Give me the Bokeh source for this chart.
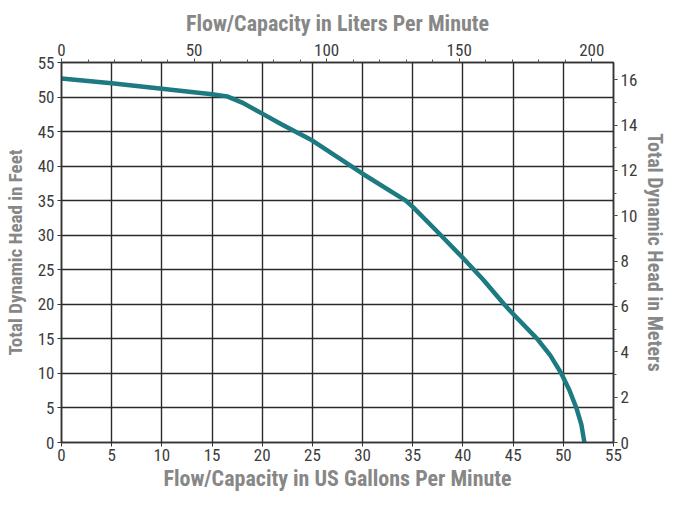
from bokeh.plotting import figure
from bokeh.models import Range1d, LinearAxis, SingleIntervalTicker
from bokeh.embed import file_html
from bokeh.resources import INLINE

# Data
gallons = [0, 5, 10, 15, 16.5, 18, 20, 22, 25, 30, 34.3, 35, 37.8, 40, 42, 44.1, 45, 47.4, 48.7, 49.8, 50.6, 51.3, 51.8, 52.1]
feet = [52.7, 52.0, 51.2, 50.4, 50.1, 49.2, 47.6, 46.0, 43.7, 38.9, 35.0, 34.1, 30.0, 26.7, 23.6, 20.0, 18.6, 15.0, 12.6, 10.0, 7.6, 5.0, 2.6, 0.0]

GAL_TO_L = 3.78541
FT_TO_M = 0.3048
x_max = 55
y_max = 55

FONT = "Roboto Condensed"
LABEL_COLOR = "#878787"
TICK_COLOR = "#3c3c3c"
LINE_COLOR = "#1c7a80"

p = figure(output_backend="svg", toolbar_location=None,
           x_range=Range1d(0, x_max), y_range=Range1d(0, y_max),
           frame_width=552, frame_height=380,
           min_border_left=55, min_border_right=50, min_border_top=62, min_border_bottom=54)
p.extra_x_ranges = {"lpm": Range1d(0, x_max * GAL_TO_L)}
p.extra_y_ranges = {"m": Range1d(0, y_max * FT_TO_M)}

p.line(gallons, feet, line_color=LINE_COLOR, line_width=4.5, line_cap="round", line_join="round")

def style(ax, label, size):
    ax.axis_label = label
    ax.axis_label_text_font = FONT
    ax.axis_label_text_font_style = "bold"
    ax.axis_label_text_font_size = size
    ax.axis_label_text_color = LABEL_COLOR
    ax.major_label_text_font = FONT
    ax.major_label_text_font_size = "17px"
    ax.major_label_text_color = TICK_COLOR
    ax.axis_line_color = "#333333"
    ax.axis_line_width = 1.5
    ax.major_tick_line_color = "#333333"
    ax.minor_tick_line_color = "#555555"
    ax.major_tick_in = 0
    ax.major_tick_out = 4
    ax.minor_tick_in = 0
    ax.minor_tick_out = 3

xb = p.xaxis[0]
xb.ticker = SingleIntervalTicker(interval=5, num_minor_ticks=0)
style(xb, "Flow/Capacity in US Gallons Per Minute", "22px")
xb.axis_label_standoff = 2
xb.major_label_standoff = 2

yl = p.yaxis[0]
yl.ticker = SingleIntervalTicker(interval=5, num_minor_ticks=0)
style(yl, "Total Dynamic Head in Feet", "19px")
yl.axis_label_standoff = 8
yl.major_label_standoff = 3

xt = LinearAxis(x_range_name="lpm", ticker=SingleIntervalTicker(interval=50, num_minor_ticks=5))
style(xt, "Flow/Capacity in Liters Per Minute", "22px")
xt.axis_label_standoff = 5
xt.major_label_standoff = 3
p.add_layout(xt, "above")

yr = LinearAxis(y_range_name="m", ticker=SingleIntervalTicker(interval=2, num_minor_ticks=2))
style(yr, "Total Dynamic Head in Meters", "20px")
yr.axis_label_standoff = 3
yr.major_label_standoff = 3
yr.major_label_orientation = "horizontal"
p.add_layout(yr, "right")

p.xgrid.ticker = SingleIntervalTicker(interval=5)
p.ygrid.ticker = SingleIntervalTicker(interval=5)
for g in (p.xgrid[0], p.ygrid[0]):
    g.grid_line_color = "#2a2a2a"
    g.grid_line_width = 1.4

p.outline_line_color = "#333333"
p.outline_line_width = 1.5
p.background_fill_color = "white"
p.border_fill_color = "white"

open("out.html", "w").write(file_html(p, INLINE))
